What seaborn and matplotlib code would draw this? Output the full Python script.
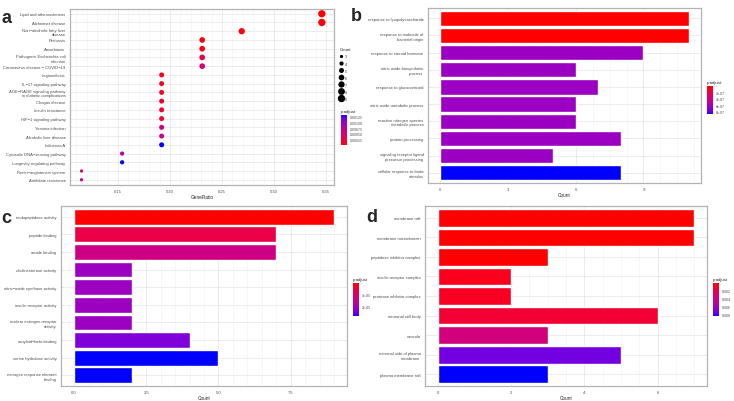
import numpy as np
import pandas as pd
import matplotlib
matplotlib.use("Agg")
import matplotlib.pyplot as plt
import seaborn as sns
from matplotlib.colors import ListedColormap, Normalize
from matplotlib.cm import ScalarMappable
from matplotlib.lines import Line2D

# ---- data ----
terms_a = ["Lipid and atherosclerosis", "Alzheimer disease", "Non\u2212alcoholic fatty liver\ndisease",
           "Pertussis", "Amoebiasis", "Pathogenic Escherichia coli\ninfection",
           "Coronavirus disease \u2212 COVID\u221219", "Legionellosis", "IL\u221217 signaling pathway",
           "AGE\u2212RAGE signaling pathway\nin diabetic complications", "Chagas disease",
           "Insulin resistance", "HIF\u22121 signaling pathway", "Yersinia infection",
           "Alcoholic liver disease", "Influenza A", "Cytosolic DNA\u2212sensing pathway",
           "Longevity regulating pathway", "Renin\u2212angiotensin system", "Antifolate resistance"]
count_a = [9, 9, 7, 6, 6, 6, 6, 5, 5, 5, 5, 5, 5, 5, 5, 5, 4, 4, 3, 3]
ratio_a = [0.346, 0.346, 0.269, 0.231, 0.231, 0.231, 0.231, 0.192, 0.192, 0.192,
           0.192, 0.192, 0.192, 0.192, 0.192, 0.192, 0.154, 0.154, 0.115, 0.115]
padj_a = [0.00003, 0.00003, 0.00005, 0.00008, 0.00008, 0.00030, 0.00060, 0.00012, 0.00012, 0.00014,
          0.00018, 0.00018, 0.00020, 0.00062, 0.00062, 0.00132, 0.00080, 0.00132, 0.00060, 0.00080]

terms_b = ["response to lipopolysaccharide", "response to molecule of\nbacterial origin",
           "response to steroid hormone", "nitric oxide biosynthetic\nprocess",
           "response to glucocorticoid", "nitric oxide metabolic process",
           "reactive nitrogen species\nmetabolic process", "protein processing",
           "signaling receptor ligand\nprecursor processing", "cellular response to biotic\nstimulus"]
count_b = [11, 11, 9, 6, 7, 6, 6, 8, 5, 8]
padj_b = [0.01e-07, 0.01e-07, 6.5e-07, 6.5e-07, 6.5e-07, 6.5e-07, 6.5e-07, 6.5e-07, 6.5e-07, 8.7e-07]

terms_c = ["endopeptidase activity", "peptide binding", "amide binding", "cholinesterase activity",
           "nitric\u2212oxide synthase activity", "insulin receptor activity",
           "nuclear estrogen receptor\nactivity", "amyloid\u2212beta binding",
           "serine hydrolase activity", "estrogen response element\nbinding"]
count_c = [9, 7, 7, 2, 2, 2, 2, 4, 5, 2]
padj_c = [0.13e-05, 0.7e-05, 1.35e-05, 2.05e-05, 2.05e-05, 2.05e-05, 2.05e-05, 2.3e-05, 2.71e-05, 2.71e-05]

terms_d = ["membrane raft", "membrane microdomain", "peptidase inhibitor complex",
           "insulin receptor complex", "protease inhibitor complex", "neuronal cell body",
           "caveola", "external side of plasma\nmembrane", "plasma membrane raft"]
count_d = [7, 7, 3, 2, 2, 6, 3, 5, 3]
padj_d = [0.00005, 0.00005, 0.00005, 0.0005, 0.0007, 0.0012, 0.0037, 0.0072, 0.00825]


# ---- red -> blue gradient in Lab space (like ggplot) ----
def to_lab(rgb):
    c = np.array(rgb, float)
    c = np.where(c > 0.04045, ((c + 0.055) / 1.055) ** 2.4, c / 12.92)
    m = np.array([[0.4124, 0.3576, 0.1805], [0.2126, 0.7152, 0.0722], [0.0193, 0.1192, 0.9505]])
    xyz = m @ c / np.array([0.95047, 1.0, 1.08883])
    f = np.where(xyz > 0.008856, np.cbrt(xyz), 7.787 * xyz + 16 / 116)
    return np.array([116 * f[1] - 16, 500 * (f[0] - f[1]), 200 * (f[1] - f[2])])


def from_lab(lab):
    fy = (lab[0] + 16) / 116
    f = np.array([fy + lab[1] / 500, fy, fy - lab[2] / 200])
    xyz = np.where(f ** 3 > 0.008856, f ** 3, (f - 16 / 116) / 7.787) * np.array([0.95047, 1.0, 1.08883])
    mi = np.array([[3.2406, -1.5372, -0.4986], [-0.9689, 1.8758, 0.0415], [0.0557, -0.2040, 1.0570]])
    c = mi @ xyz
    c = np.where(c > 0.0031308, 1.055 * np.abs(c) ** (1 / 2.4) - 0.055, 12.92 * c)
    return np.clip(c, 0, 1)


lab_r, lab_b = to_lab([1, 0, 0]), to_lab([0, 0, 1])
cmap = ListedColormap([from_lab(lab_r + t * (lab_b - lab_r)) for t in np.linspace(0, 1, 256)])

W, H = 734, 402
fig = plt.figure(figsize=(W / 100, H / 100), dpi=100)
sns.set_style("white")
plt.rcParams['font.family'] = ['Liberation Sans', 'DejaVu Sans']

FS = 3.0
GRAY = "#4D4D4D"
SIZES = (5.5, 28)


def px(x0, y0, x1, y1):
    return [x0 / W, 1 - y1 / H, (x1 - x0) / W, (y1 - y0) / H]


def style(ax):
    ax.set_facecolor("white")
    for s in ax.spines.values():
        s.set_color("#B3B3B3")
        s.set_linewidth(0.9)
    ax.minorticks_on()
    ax.grid(which="major", color="#E5E5E5", linewidth=0.5)
    ax.grid(which="minor", axis="x", color="#F2F2F2", linewidth=0.4)
    ax.yaxis.set_minor_locator(matplotlib.ticker.NullLocator())
    ax.set_axisbelow(True)
    ax.tick_params(which="major", labelsize=FS, colors=GRAY, length=2, width=0.4, pad=1.2)
    ax.tick_params(axis="x", which="major", pad=0.8)
    ax.tick_params(which="minor", length=0)
    ax.tick_params(axis="both", labelcolor=GRAY)


def cbar(rect, norm, ticks, labels, flip, title):
    cax = fig.add_axes(px(*rect))
    cb = fig.colorbar(ScalarMappable(norm=norm, cmap=cmap), cax=cax)
    cb.outline.set_visible(False)
    cb.set_ticks(ticks)
    cb.set_ticklabels(labels)
    cax.tick_params(labelsize=FS * 0.85, length=1.2, width=0.3, colors="white", labelcolor=GRAY, pad=1)
    if flip:
        cax.invert_yaxis()
    fig.text(rect[0] / W, 1 - (rect[1] - 2) / H, title, fontsize=FS * 1.05, ha="left", va="bottom")


# ---- panel a ----
ax = fig.add_axes(px(70, 9.5, 334, 186))
df_a = pd.DataFrame({"term": terms_a, "ratio": ratio_a, "Count": count_a, "p": padj_a})
norm_a = Normalize(0.00002, 0.00132)
sns.scatterplot(data=df_a, x="ratio", y="term", hue="p", size="Count", palette=cmap, hue_norm=norm_a,
                sizes=SIZES, size_norm=(3, 9), linewidth=0, legend=False, ax=ax)
ax.set_ylim(len(terms_a) - 0.4, -0.6)
ax.set_xlim(0.1039, 0.3577)
ax.set_xticks([0.15, 0.20, 0.25, 0.30, 0.35])
ax.set_xticklabels(["0.15", "0.20", "0.25", "0.30", "0.35"])
ax.set_xlabel("GeneRatio", fontsize=FS * 1.15, labelpad=0.6)
ax.set_ylabel("")
style(ax)

handles = [Line2D([], [], marker="o", ls="", color="black", markeredgewidth=0,
                  markersize=np.sqrt(SIZES[0] + (c - 3) * (SIZES[1] - SIZES[0]) / 6)) for c in range(3, 10)]
fig.legend(handles, [str(c) for c in range(3, 10)], title="Count", loc="upper left",
           bbox_to_anchor=(337 / W, 1 - 46 / H), frameon=False, fontsize=FS * 0.85,
           title_fontsize=FS * 1.05, labelspacing=0.85, handletextpad=0.4, handlelength=1.0,
           borderpad=0.2, alignment="left")
cbar((341, 116, 347, 146), norm_a, [0.00025, 0.0005, 0.00075, 0.001, 0.00125],
     ["0.00025", "0.00050", "0.00075", "0.00100", "0.00125"], False, "p.adjust")


def bars(rect, terms, counts, padj, norm, xlim, xticks, xlabels):
    ax = fig.add_axes(px(*rect))
    d = pd.DataFrame({"term": terms, "Count": counts, "p": padj})
    pal = {t: cmap(norm(p)) for t, p in zip(terms, padj)}
    sns.barplot(data=d, x="Count", y="term", hue="term", palette=pal, legend=False,
                width=0.9, orient="h", saturation=1, ax=ax)
    ax.set_ylim(len(terms) - 0.4, -0.6)
    ax.set_xlim(*xlim)
    ax.set_xticks(xticks)
    ax.set_xticklabels(xlabels)
    ax.set_xlabel("Count", fontsize=FS * 1.15, labelpad=0.6)
    ax.set_ylabel("")
    style(ax)
    return ax


# ---- panel b ----
norm_b = Normalize(0.0, 8.7e-07)
bars((428, 9, 701, 184), terms_b, count_b, padj_b, norm_b, (-0.55, 11.55), [0, 3, 6, 9], ["0", "3", "6", "9"])
cbar((707, 87, 713, 115), norm_b, [2e-07, 4e-07, 6e-07, 8e-07],
     ["2e-07", "4e-07", "6e-07", "8e-07"], True, "p.adjust")

# ---- panel c ----
norm_c = Normalize(0.13e-05, 2.71e-05)
bars((61, 207, 347, 387), terms_c, count_c, padj_c, norm_c, (-0.45, 9.45), [0, 2.5, 5, 7.5],
     ["0.0", "2.5", "5.0", "7.5"])
cbar((353, 284, 359, 317), norm_c, [1e-05, 2e-05], ["1e-05", "2e-05"], True, "p.adjust")

# ---- panel d ----
norm_d = Normalize(0.00005, 0.00825)
bars((425, 207, 707, 387), terms_d, count_d, padj_d, norm_d, (-0.35, 7.35), [0, 2, 4, 6], ["0", "2", "4", "6"])
cbar((713, 284, 719, 317), norm_d, [0.002, 0.004, 0.006, 0.008],
     ["0.002", "0.004", "0.006", "0.008"], True, "p.adjust")

# panel letters
for x, y, s in [(2, 10, "a"), (351, 8, "b"), (1, 210, "c"), (366, 209, "d")]:
    fig.text(x / W, 1 - y / H, s, fontsize=13, fontweight="bold", ha="left", va="top",
             family=["Liberation Sans", "DejaVu Sans"])

fig.savefig("out.png", dpi=100)
